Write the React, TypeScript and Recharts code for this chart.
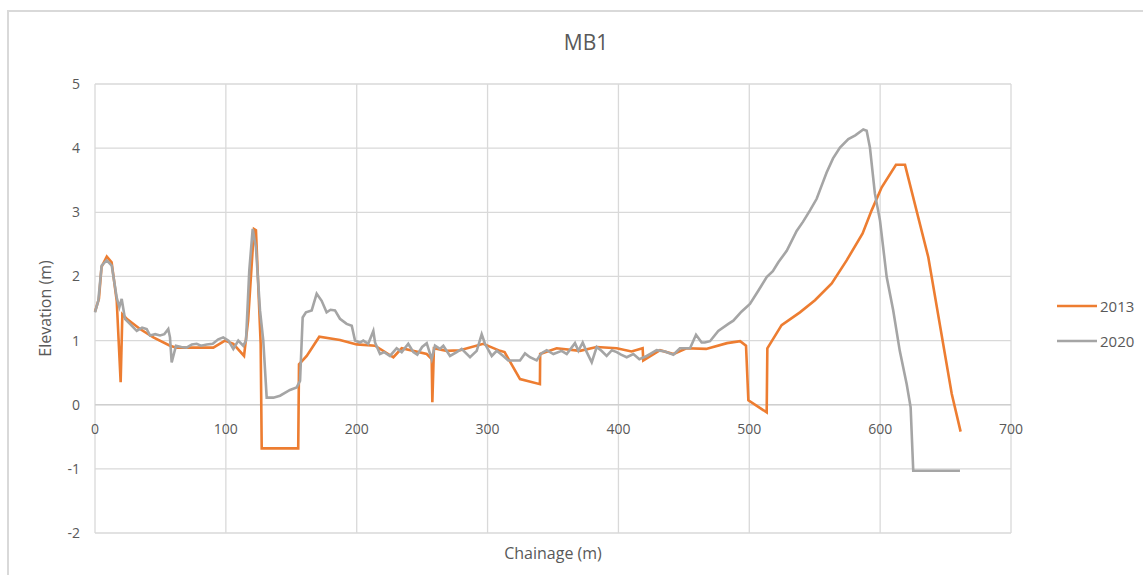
import React from 'react';
import { LineChart, Line, XAxis, YAxis, CartesianGrid, ReferenceLine } from 'recharts';

// chart: MB1 beach profile, chainage vs elevation
const chartTitle = 'MB1';
const seriesNames = ['2013', '2020'];
const xTicks = [0, 100, 200, 300, 400, 500, 600, 700];
const yTicks = [-2, -1, 0, 1, 2, 3, 4, 5];

const chainage2013 = [
  0, 3, 5, 9, 12.7, 16.6, 19.6, 20.9, 24.2, 34.4, 44.6, 57.3, 62.4, 90.4, 99.3, 105.7, 113.9, 117, 121.5, 123,
  126.6, 127.4, 155.3, 155.9, 161.8, 171.4, 187.2, 200, 214, 228, 234.4, 253.5, 257.3, 257.8, 259, 268.7, 279,
  296.7, 309.5, 313, 324.8, 340, 340.2, 352.8, 370.6, 383.4, 398.7, 410, 418.5, 419, 431.8, 442, 452, 467, 483,
  493, 497.5, 499.3, 513.3, 513.8, 524.7, 538.7, 550.2, 563, 574.4, 586.6, 593.5, 601.2, 612.1, 619, 636.8,
  654.7, 661.5,
];
const elev2013 = [
  1.45, 1.65, 2.15, 2.31, 2.22, 1.62, 0.35, 1.41, 1.34, 1.18, 1.05, 0.92, 0.89, 0.89, 1.0, 0.95, 0.76, 1.31, 2.74, 2.72,
  0.95, -0.68, -0.68, 0.63, 0.76, 1.06, 1.01, 0.94, 0.92, 0.74, 0.88, 0.79, 0.71, 0.04, 0.88, 0.84, 0.85,
  0.95, 0.84, 0.82, 0.4, 0.32, 0.79, 0.88, 0.84, 0.9, 0.88, 0.83, 0.88, 0.69, 0.85, 0.79, 0.88, 0.87, 0.96,
  0.99, 0.92, 0.07, -0.12, 0.88, 1.24, 1.44, 1.63, 1.89, 2.25, 2.67, 3.03, 3.39, 3.74, 3.74, 2.3,
  0.17, -0.42,
];

const chainage2020 = [
  0, 2.5, 5.1, 8.9, 12.8, 16.6, 18.6, 20.4, 22.9, 26.7, 31.9, 36, 39.5, 42, 46, 49.7, 53, 56, 57.3, 58.6, 61.9, 66,
  70, 74, 77.7, 81, 85.4, 90, 94.2, 98, 102, 105.7, 109.5, 113.3, 115.4, 117.9, 120.5, 123, 126.1, 128.6, 131.2,
  136.3, 141.4, 149, 154.1, 156.7, 158.7, 161.2, 165.6, 169.4, 173.2, 177, 180, 183.4, 187.2, 192.3, 196.2, 198.7,
  202.5, 205, 208.8, 212.7, 214, 217.8, 221, 225.4, 230.5, 234.4, 239.4, 243.3, 246.3, 250, 253.5, 257.3, 259.8,
  263.6, 266.2, 271.3, 276.4, 280.2, 286.6, 291.7, 295.5, 298, 303.2, 307, 312, 315.8, 319.7, 324.8, 328.6, 332.4,
  337.5, 341, 345.2, 350.3, 356.6, 360.5, 366.8, 369.4, 372.7, 375.8, 379.6, 383.4, 387, 391, 395, 398.7, 402,
  406.3, 411.4, 416, 421.6, 425, 429.2, 435.6, 442, 447, 454.7, 459.3, 463.6, 466, 470, 476.3, 484, 487.8, 494,
  500.5, 507, 513.3, 518, 522.2, 528.6, 536.2, 541, 546.4, 551.5, 555, 559.1, 564, 569.3, 575.7, 581, 587.1, 589.7,
  592.2, 596, 599.9, 605, 610, 615, 620.3, 623.3, 625.3, 661,
];
const elev2020 = [
  1.44, 1.62, 2.17, 2.25, 2.17, 1.67, 1.52, 1.65, 1.34, 1.26, 1.15, 1.2, 1.18, 1.08, 1.1, 1.08, 1.1, 1.18, 1.05, 0.66, 0.92, 0.9,
  0.89, 0.94, 0.95, 0.92, 0.94, 0.95, 1.02, 1.05, 1.0, 0.87, 1.0, 0.92, 1.0, 2.09, 2.74, 2.45, 1.47, 1.0, 0.11,
  0.11, 0.14, 0.23, 0.27, 0.37, 1.36, 1.44, 1.47, 1.73, 1.62, 1.44, 1.48, 1.47, 1.34, 1.26, 1.23, 1.0,
  0.97, 1.0, 0.95, 1.15, 0.97, 0.79, 0.82, 0.76, 0.88, 0.82, 0.95, 0.82, 0.78, 0.9, 0.96, 0.71, 0.92,
  0.87, 0.92, 0.76, 0.82, 0.87, 0.74, 0.84, 1.1, 0.95, 0.76, 0.84, 0.76, 0.69, 0.69, 0.69, 0.8, 0.74,
  0.69, 0.8, 0.85, 0.79, 0.84, 0.79, 0.96, 0.84, 0.97, 0.82, 0.66, 0.9, 0.84, 0.76, 0.85, 0.82, 0.78,
  0.74, 0.79, 0.71, 0.76, 0.8, 0.85, 0.83, 0.78, 0.88, 0.88, 1.09, 0.97, 0.97, 0.99, 1.15, 1.26, 1.31, 1.45,
  1.57, 1.78, 1.99, 2.08, 2.22, 2.4, 2.71, 2.85, 3.03, 3.21, 3.4, 3.62, 3.84, 4.01, 4.14, 4.2, 4.29, 4.27,
  4.01, 3.29, 2.87, 1.99, 1.47, 0.84, 0.32, -0.04, -1.03, -1.03,
];

const data2013 = chainage2013.map((x, i) => ({ x, e: elev2013[i] }));
const data2020 = chainage2020.map((x, i) => ({ x, e: elev2020[i] }));

const W = 1143;
const H = 575;
const margin = { top: 84, right: 132, bottom: 0, left: 0 };
const yAxisW = 95;
const xAxisH = 42;
const plotH = H - margin.top - xAxisH;
const font = '"Open Sans", sans-serif';
const textColor = '#595959';
const colors = ['#ED7D31', '#A5A5A5'];

// x labels sit under the zero line, not at the bottom of the plot
const zeroShift = (plotH * (0 - yTicks[0])) / (yTicks[yTicks.length - 1] - yTicks[0]);

const XTick = (props: any) => {
  const { x, y, payload } = props;
  return (
    <text x={x} y={y - zeroShift + 24} textAnchor="middle" dy="0.35em" fill={textColor} fontSize={14} fontFamily={font}>
      {payload.value}
    </text>
  );
};

export default function App() {
  return (
    <div style={{ position: 'absolute', left: 0, top: 0, width: W, height: H, background: '#fff', overflow: 'hidden' }}>
      <div
        style={{
          position: 'absolute', left: 7, top: 10, width: W, height: H,
          borderTop: '2px solid #d9d9d9', borderLeft: '2px solid #d9d9d9',
        }}
      />
      <div
        style={{
          position: 'absolute', left: 0, width: 1172, top: 28, textAlign: 'center',
          fontFamily: font, fontSize: 21, color: textColor,
        }}
      >
        {chartTitle}
      </div>
      <div style={{ position: 'absolute', left: 0, top: 0 }}>
        <LineChart width={W} height={H} margin={margin}>
          <CartesianGrid stroke="#d9d9d9" strokeWidth={1.3} />
          <XAxis
            dataKey="x"
            type="number"
            domain={[0, 700]}
            ticks={xTicks}
            height={xAxisH}
            axisLine={false}
            tickLine={false}
            tickSize={0}
            tickMargin={0}
            tick={<XTick />}
            interval={0}
            allowDuplicatedCategory={false}
            label={{ value: 'Chainage (m)', position: 'insideBottom', offset: 16, fill: textColor, fontSize: 16, fontFamily: font }}
          />
          <YAxis
            type="number"
            domain={[-2, 5]}
            ticks={yTicks}
            width={yAxisW}
            axisLine={false}
            tickLine={false}
            tickSize={0}
            tickMargin={15}
            interval={0}
            tick={{ fill: textColor, fontSize: 14, fontFamily: font }}
            label={{ value: 'Elevation (m)', angle: -90, position: 'center', dx: -2, fill: textColor, fontSize: 16, fontFamily: font }}
          />
          <ReferenceLine y={0} stroke="#cfcfcf" strokeWidth={1.5} />
          <Line data={data2013} dataKey="e" name={seriesNames[0]} type="linear" stroke={colors[0]} strokeWidth={2.6} dot={false} isAnimationActive={false} />
          <Line data={data2020} dataKey="e" name={seriesNames[1]} type="linear" stroke={colors[1]} strokeWidth={2.6} dot={false} isAnimationActive={false} />
        </LineChart>
      </div>
      {seriesNames.map((n, i) => (
        <div
          key={n}
          style={{
            position: 'absolute', left: 1057, top: 295 + i * 35, height: 22, display: 'flex', alignItems: 'center',
            fontFamily: font, fontSize: 15, color: textColor,
          }}
        >
          <svg width={40} height={4} style={{ marginRight: 3 }}>
            <line x1={0} y1={2} x2={40} y2={2} stroke={colors[i]} strokeWidth={2.6} />
          </svg>
          {n}
        </div>
      ))}
    </div>
  );
}
